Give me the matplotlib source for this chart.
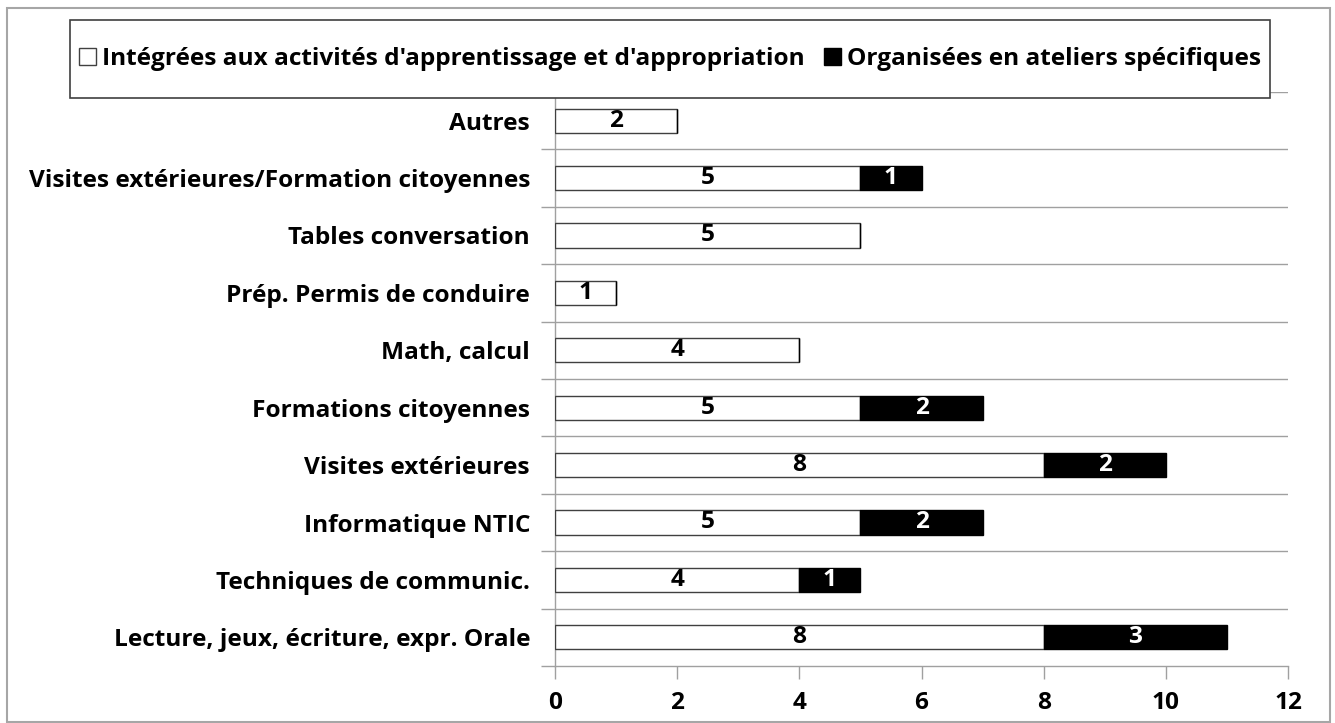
import matplotlib
matplotlib.use("Agg")
import matplotlib.pyplot as plt
from matplotlib.patches import Patch, Rectangle

plt.rcParams['font.family'] = ['Open Sans', 'DejaVu Sans']
plt.rcParams['font.weight'] = 'bold'

# data, bottom to top
categories = ["Lecture, jeux, écriture, expr. Orale", "Techniques de communic.",
              "Informatique NTIC", "Visites extérieures", "Formations citoyennes",
              "Math, calcul", "Prép. Permis de conduire", "Tables conversation",
              "Visites extérieures/Formation citoyennes", "Autres"]
integrees = [8, 4, 5, 8, 5, 4, 1, 5, 5, 2]
ateliers = [3, 1, 2, 2, 2, 0, 0, 0, 1, 0]
xticks = [0, 2, 4, 6, 8, 10, 12]
legend_labels = ["Intégrées aux activités d'apprentissage et d'appropriation",
                 "Organisées en ateliers spécifiques"]

W, H = 1335, 723
FS = 17.6
fig = plt.figure(figsize=(W / 100, H / 100), dpi=100)

# outer chart border
fig.patches.append(Rectangle((7 / W, 1 / H), (1330 - 7) / W, (715 - 1) / H,
                             transform=fig.transFigure, fill=False,
                             edgecolor='#a6a6a6', linewidth=1.5))

ax = fig.add_axes([555 / W, 1 - 666 / H, (1288 - 555) / W, (666 - 92) / H])
ypos = list(range(len(categories)))
gray = '#a0a0a0'

bh = 0.42
ax.barh(ypos, integrees, height=bh, color='white', edgecolor='#404040',
        linewidth=1, zorder=3)
ax.barh(ypos, ateliers, left=integrees, height=bh, color='black',
        edgecolor='black', linewidth=1, zorder=3)

for y, a, b in zip(ypos, integrees, ateliers):
    if a:
        ax.text(a / 2, y, str(a), ha='center', va='center', fontsize=FS,
                fontweight='bold', color='black', zorder=4)
    if b:
        ax.text(a + b / 2, y, str(b), ha='center', va='center', fontsize=FS,
                fontweight='bold', color='white', zorder=4)

ax.set_xlim(0, 12)
ax.set_ylim(-0.5, len(categories) - 0.5)
ax.set_xticks(xticks)
ax.set_xticklabels([str(t) for t in xticks], fontsize=FS, fontweight='bold')
ax.tick_params(axis='x', length=9, color=gray, pad=9, width=1)

ax.set_yticks(ypos)
ax.set_yticklabels(categories, fontsize=FS, fontweight='bold')
ax.tick_params(axis='y', which='major', length=0, pad=18)
bounds = [k + 0.5 for k in range(-1, len(categories))]
ax.set_yticks(bounds, minor=True)
ax.tick_params(axis='y', which='minor', length=10, color=gray, width=1)

for yb in bounds[1:]:
    ax.axhline(yb, color=gray, linewidth=1, zorder=1)

for s in ['top', 'right']:
    ax.spines[s].set_visible(False)
for s in ['left', 'bottom']:
    ax.spines[s].set_color(gray)
    ax.spines[s].set_linewidth(1)

# legend box
fig.patches.append(Rectangle((70 / W, 1 - 98 / H), (1270 - 70) / W, (98 - 20) / H,
                             transform=fig.transFigure, fill=True, facecolor='white',
                             edgecolor='#404040', linewidth=1.2, zorder=5))
handles = [Patch(facecolor='white', edgecolor='#404040', linewidth=1),
           Patch(facecolor='black', edgecolor='black', linewidth=1)]
leg = fig.legend(handles, legend_labels, loc='center', ncol=2, frameon=False,
                 bbox_to_anchor=(670 / W, 1 - 59 / H), fontsize=FS,
                 handlelength=0.7, handleheight=0.7, handletextpad=0.25,
                 columnspacing=0.8)
leg.set_zorder(6)
for t in leg.get_texts():
    t.set_fontweight('bold')

fig.savefig("out.png", dpi=100)
